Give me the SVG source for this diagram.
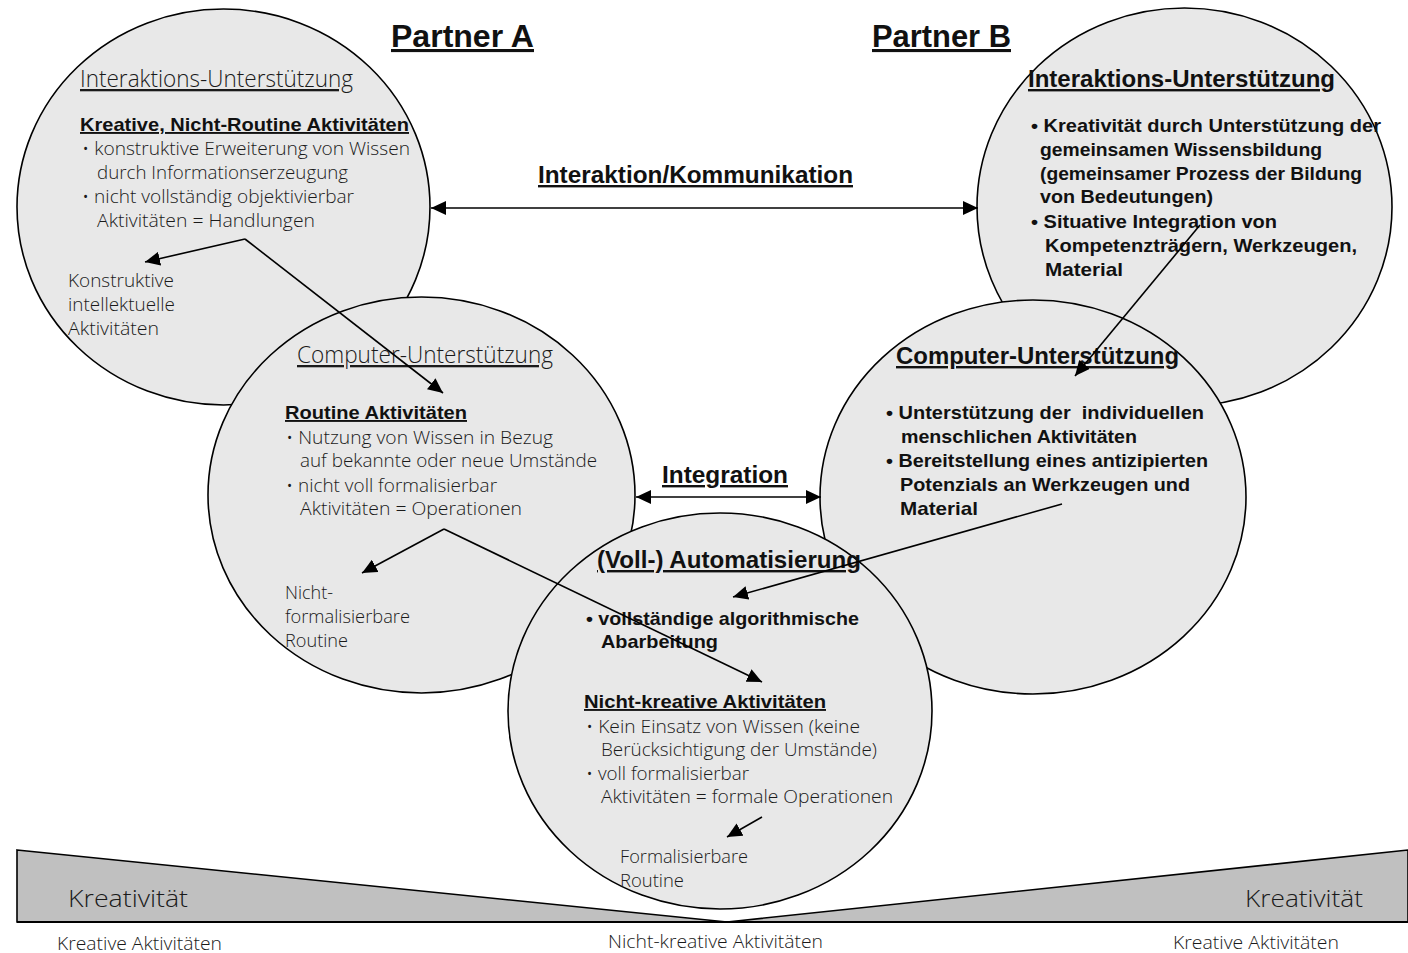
<svg xmlns="http://www.w3.org/2000/svg" width="1408" height="953" viewBox="0 0 1408 953">
<style>
text{font-family:"Liberation Sans",Arial,sans-serif;fill:#111;}
.r{font-family:"Open Sans","Liberation Sans",sans-serif;font-weight:300;fill:#1a1a1a;}
.b{font-weight:bold;}
.u{text-decoration:underline;}
.h23{font-size:23px;}
.h24{font-size:24px;}
.s18{font-size:18px;}
.s19{font-size:19px;}
.circ{fill:#e8e8e8;stroke:#000;stroke-width:1.6;}
.con{stroke:#000;stroke-width:1.6;fill:none;}
</style>
<defs>
<marker id="ah" viewBox="0 0 15 14" markerUnits="userSpaceOnUse" markerWidth="15" markerHeight="14" refX="15" refY="7" orient="auto-start-reverse">
<path d="M0,0 L15,7 L0,14 z" fill="#000"/>
</marker>
</defs>

<g id="scale-bar">
<polygon points="17,850 727,922 1408,850 1408,922 17,922" fill="#c0c0c0" stroke="#000" stroke-width="1.6"/>
<line x1="17" y1="922" x2="1408" y2="922" stroke="#000" stroke-width="2.2"/>
<text class="r" x="68" y="907" font-size="24" textLength="120" lengthAdjust="spacingAndGlyphs">Kreativität</text>
<text class="r" x="1245" y="907" font-size="24" textLength="118" lengthAdjust="spacingAndGlyphs">Kreativität</text>
<text class="r" x="57" y="950" font-size="18" textLength="165" lengthAdjust="spacingAndGlyphs">Kreative Aktivitäten</text>
<text class="r" x="608" y="948" font-size="18" textLength="215" lengthAdjust="spacingAndGlyphs">Nicht-kreative Aktivitäten</text>
<text class="r" x="1173" y="949" font-size="18" textLength="166" lengthAdjust="spacingAndGlyphs">Kreative Aktivitäten</text>
</g>

<g id="titles">
<text class="b u" x="391" y="47" font-size="31" textLength="143" lengthAdjust="spacingAndGlyphs">Partner A</text>
<text class="b u" x="872" y="47" font-size="31" textLength="139" lengthAdjust="spacingAndGlyphs">Partner B</text>
</g>

<g id="node-interaktion-a">
<ellipse class="circ" cx="223.5" cy="207" rx="206.5" ry="198"/>
<text class="r h23 u" x="80" y="87" textLength="273" lengthAdjust="spacingAndGlyphs">Interaktions-Unterstützung</text>
<text class="b u s19" x="80" y="131" textLength="329" lengthAdjust="spacingAndGlyphs">Kreative, Nicht-Routine Aktivitäten</text>
<text class="r s18" x="82" y="155" textLength="328" lengthAdjust="spacingAndGlyphs">• konstruktive Erweiterung von Wissen</text>
<text class="r s18" x="97" y="179" textLength="251" lengthAdjust="spacingAndGlyphs">durch Informationserzeugung</text>
<text class="r s18" x="82" y="203" textLength="272" lengthAdjust="spacingAndGlyphs">• nicht vollständig objektivierbar</text>
<text class="r s18" x="97" y="227" textLength="218" lengthAdjust="spacingAndGlyphs">Aktivitäten = Handlungen</text>
<text class="r s18" x="68" y="287" textLength="106" lengthAdjust="spacingAndGlyphs">Konstruktive</text>
<text class="r s18" x="68" y="311" textLength="107" lengthAdjust="spacingAndGlyphs">intellektuelle</text>
<text class="r s18" x="68" y="335" textLength="91" lengthAdjust="spacingAndGlyphs">Aktivitäten</text>
</g>

<g id="node-interaktion-b">
<ellipse class="circ" cx="1184.5" cy="207" rx="207.5" ry="199"/>
<text class="b u h24" x="1028" y="87" textLength="307" lengthAdjust="spacingAndGlyphs">Interaktions-Unterstützung</text>
<text class="b s19" x="1031" y="132" textLength="350" lengthAdjust="spacingAndGlyphs">• Kreativität durch Unterstützung der</text>
<text class="b s19" x="1040" y="156" textLength="282" lengthAdjust="spacingAndGlyphs">gemeinsamen Wissensbildung</text>
<text class="b s19" x="1040" y="180" textLength="322" lengthAdjust="spacingAndGlyphs">(gemeinsamer Prozess der Bildung</text>
<text class="b s19" x="1040" y="203" textLength="173" lengthAdjust="spacingAndGlyphs">von Bedeutungen)</text>
<text class="b s19" x="1031" y="228" textLength="246" lengthAdjust="spacingAndGlyphs">• Situative Integration von</text>
<text class="b s19" x="1045" y="252" textLength="312" lengthAdjust="spacingAndGlyphs">Kompetenzträgern, Werkzeugen,</text>
<text class="b s19" x="1045" y="276" textLength="78" lengthAdjust="spacingAndGlyphs">Material</text>
</g>

<g id="node-computer-a">
<ellipse class="circ" cx="421.5" cy="495" rx="213.5" ry="198"/>
<text class="r h23 u" x="297" y="363" textLength="256" lengthAdjust="spacingAndGlyphs">Computer-Unterstützung</text>
<text class="b u s19" x="285" y="419" textLength="182" lengthAdjust="spacingAndGlyphs">Routine Aktivitäten</text>
<text class="r s18" x="286" y="444" textLength="267" lengthAdjust="spacingAndGlyphs">• Nutzung von Wissen in Bezug</text>
<text class="r s18" x="300" y="467" textLength="297" lengthAdjust="spacingAndGlyphs">auf bekannte oder neue Umstände</text>
<text class="r s18" x="286" y="492" textLength="211" lengthAdjust="spacingAndGlyphs">• nicht voll formalisierbar</text>
<text class="r s18" x="300" y="515" textLength="222" lengthAdjust="spacingAndGlyphs">Aktivitäten = Operationen</text>
<text class="r s18" x="285" y="599" textLength="48" lengthAdjust="spacingAndGlyphs">Nicht-</text>
<text class="r s18" x="285" y="623" textLength="125" lengthAdjust="spacingAndGlyphs">formalisierbare</text>
<text class="r s18" x="285" y="647" textLength="63" lengthAdjust="spacingAndGlyphs">Routine</text>
</g>

<g id="node-computer-b">
<ellipse class="circ" cx="1033" cy="497" rx="213" ry="197"/>
<text class="b u h24" x="896" y="364" textLength="283" lengthAdjust="spacingAndGlyphs">Computer-Unterstützung</text>
<text class="b s19" x="886" y="419" textLength="318" lengthAdjust="spacingAndGlyphs" xml:space="preserve">• Unterstützung der  individuellen</text>
<text class="b s19" x="901" y="443" textLength="236" lengthAdjust="spacingAndGlyphs">menschlichen Aktivitäten</text>
<text class="b s19" x="886" y="467" textLength="322" lengthAdjust="spacingAndGlyphs">• Bereitstellung eines antizipierten</text>
<text class="b s19" x="900" y="491" textLength="290" lengthAdjust="spacingAndGlyphs">Potenzials an Werkzeugen und</text>
<text class="b s19" x="900" y="515" textLength="78" lengthAdjust="spacingAndGlyphs">Material</text>
</g>

<g id="node-automatisierung">
<ellipse class="circ" cx="720" cy="711" rx="212" ry="198"/>
<text class="b u h24" x="597" y="568" textLength="264" lengthAdjust="spacingAndGlyphs">(Voll-) Automatisierung</text>
<text class="b s19" x="586" y="625" textLength="273" lengthAdjust="spacingAndGlyphs">• vollständige algorithmische</text>
<text class="b s19" x="601" y="648" textLength="117" lengthAdjust="spacingAndGlyphs">Abarbeitung</text>
<text class="b u s19" x="584" y="708" textLength="242" lengthAdjust="spacingAndGlyphs">Nicht-kreative Aktivitäten</text>
<text class="r s18" x="586" y="733" textLength="274" lengthAdjust="spacingAndGlyphs">• Kein Einsatz von Wissen (keine</text>
<text class="r s18" x="601" y="756" textLength="276" lengthAdjust="spacingAndGlyphs">Berücksichtigung der Umstände)</text>
<text class="r s18" x="586" y="780" textLength="163" lengthAdjust="spacingAndGlyphs">• voll formalisierbar</text>
<text class="r s18" x="601" y="803" textLength="292" lengthAdjust="spacingAndGlyphs">Aktivitäten = formale Operationen</text>
<text class="r s18" x="620" y="863" textLength="128" lengthAdjust="spacingAndGlyphs">Formalisierbare</text>
<text class="r s18" x="620" y="887" textLength="64" lengthAdjust="spacingAndGlyphs">Routine</text>
</g>

<g id="connectors">
<line class="con" x1="431" y1="208" x2="978" y2="208" marker-start="url(#ah)" marker-end="url(#ah)"/>
<text class="b u h24" x="538" y="183" textLength="315" lengthAdjust="spacingAndGlyphs">Interaktion/Kommunikation</text>
<line class="con" x1="636" y1="497" x2="821" y2="497" marker-start="url(#ah)" marker-end="url(#ah)"/>
<text class="b u h24" x="662" y="483" textLength="126" lengthAdjust="spacingAndGlyphs">Integration</text>
<line class="con" x1="245" y1="239" x2="145" y2="262" marker-end="url(#ah)"/>
<line class="con" x1="245" y1="239" x2="443" y2="393" marker-end="url(#ah)"/>
<line class="con" x1="444" y1="529" x2="362" y2="573" marker-end="url(#ah)"/>
<line class="con" x1="444" y1="529" x2="762" y2="682" marker-end="url(#ah)"/>
<line class="con" x1="1200" y1="225" x2="1075" y2="376" marker-end="url(#ah)"/>
<line class="con" x1="1062" y1="504" x2="733" y2="597" marker-end="url(#ah)"/>
<line class="con" x1="762" y1="817" x2="727" y2="837" marker-end="url(#ah)"/>
</g>
</svg>
